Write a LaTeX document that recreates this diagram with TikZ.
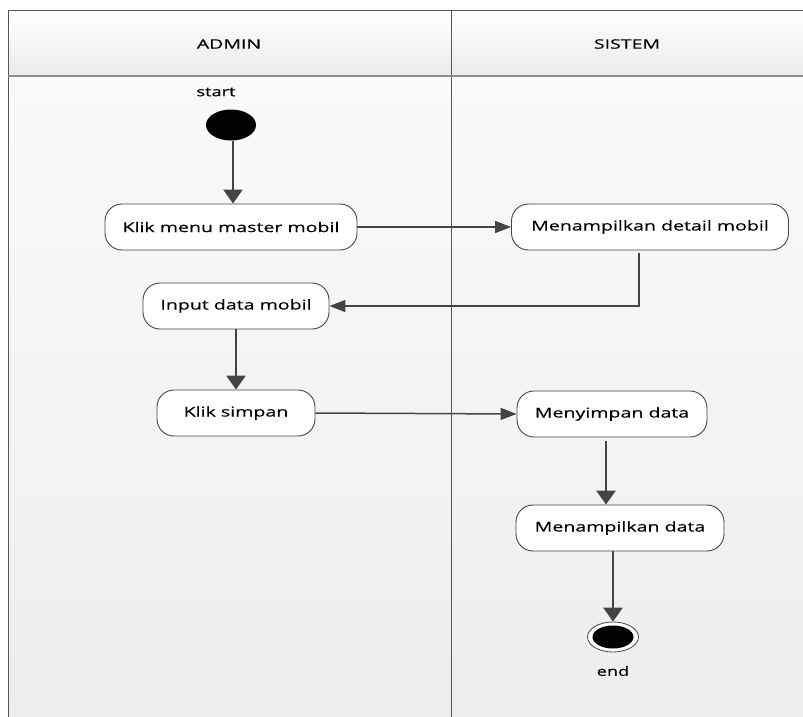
\documentclass[tikz,border=0pt]{standalone}
\usepackage{fontspec}
\setmainfont[FakeStretch=1.45,FakeBold=0.3]{Open Sans}
\newfontfamily\headfont[FakeStretch=1.5,FakeBold=0.3]{Open Sans}
\newfontfamily\tagfont[FakeStretch=1.4,FakeBold=0.3]{Open Sans}
\usetikzlibrary{arrows.meta,shapes.geometric}
\definecolor{edge}{HTML}{444444}
\definecolor{frameline}{HTML}{555555}
\tikzset{
  actbox/.style={draw=edge, line width=0.9pt, fill=white, rounded corners=17pt,
    minimum height=46pt, inner sep=0pt, font=\fontsize{13.5}{15}\selectfont},
  vflow/.style={draw=edge, line width=2.6pt, -{Triangle[width=19pt,length=14pt]}},
  hflow/.style={draw=edge, line width=1.5pt, -{Triangle[width=12pt,length=16pt]}},
  lanetitle/.style={font=\headfont\fontsize{13}{15}\selectfont},
  tag/.style={font=\tagfont\fontsize{13}{15}\selectfont},
}
\begin{document}
\begin{tikzpicture}[x=1pt,y=-1pt]
\useasboundingbox (0,0) rectangle (803,717);
% swimlane backgrounds
\shade[top color=white, bottom color=white!92!black] (8,11) rectangle (803,75);
\shade[top color=white!98!black, bottom color=white!93!black] (8,77) rectangle (803,717);
% frame and lane lines
\draw[frameline, line width=1pt] (8,717) -- (8,11) -- (803,11);
\draw[frameline, line width=1pt] (451,11) -- (451,717);
\draw[black!45, line width=2pt] (8,76) -- (803,76);
\node[lanetitle] (ladmin) at (229,44) {ADMIN};
\node[lanetitle] (lsistem) at (627,44) {SISTEM};

% start and end states
\node[tag] (startlbl) at (216,92) {start};
\node[ellipse, fill=black, minimum width=50pt, minimum height=31pt, inner sep=0pt] (start) at (231,125) {};
\node[ellipse, draw=edge, line width=0.8pt, fill=white, minimum width=51pt, minimum height=30pt, inner sep=0pt] (endo) at (613,637) {};
\node[ellipse, fill=black, minimum width=41pt, minimum height=23pt, inner sep=0pt] (endi) at (613,637) {};
\node[tag] (endlbl) at (613,671) {end};

% activities
\node[actbox, minimum width=252pt] (klikmenu) at (231,227) {Klik menu master mobil};
\node[actbox, minimum width=186pt] (input) at (236,306) {Input data mobil};
\node[actbox, minimum width=158pt] (simpan) at (236,413) {Klik simpan};
\node[actbox, minimum width=277pt] (detail) at (650,227) {Menampilkan detail mobil};
\node[actbox, minimum width=190pt] (menyimpan) at (612,414) {Menyimpan data};
\node[actbox, minimum width=208pt] (tampil) at (620,528) {Menampilkan data};

% flows
\draw[vflow] (start.south -| 233,0) -- (klikmenu.north -| 233,0);
\draw[hflow] (klikmenu.east) -- (detail.west);
\coordinate (bend) at (639,306);
\draw[hflow] ([yshift=-3pt]detail.south -| bend) -- (bend) -- (input.east);
\draw[vflow] (input.south) -- (simpan.north);
\draw[hflow] (simpan.east) -- (menyimpan.west);
\draw[vflow] ([yshift=-4pt]menyimpan.south -| 606,0) -- (tampil.north -| 606,0);
\draw[vflow] (tampil.south -| endo.north) -- (endo.north);
\end{tikzpicture}
\end{document}
